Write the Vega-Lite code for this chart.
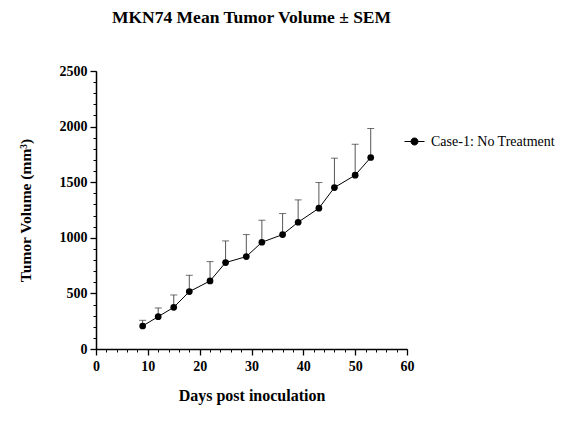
{
  "$schema": "https://vega.github.io/schema/vega-lite/v6.json",
  "autosize": {"type": "none"},
  "padding": {"left": 96, "top": 71, "right": 160, "bottom": 87},
  "width": 311,
  "height": 278,
  "background": "white",
  "title": {
    "text": "MKN74 Mean Tumor Volume ± SEM",
    "font": "Liberation Serif",
    "fontSize": 17.5,
    "fontWeight": "bold",
    "color": "black",
    "anchor": "middle",
    "offset": 38
  },
  "config": {
    "view": {"stroke": null},
    "axis": {"grid": false, "labelFlush": false, "labelFont": "Liberation Serif", "titleFont": "Liberation Serif", "labelColor": "black", "titleColor": "black", "domainColor": "black", "tickColor": "black"}
  },
  "data": {
    "values": [
      {"day": 9, "mean": 207, "upper": 258, "series": "Case-1: No Treatment"},
      {"day": 12, "mean": 291, "upper": 369, "series": "Case-1: No Treatment"},
      {"day": 15, "mean": 375, "upper": 486, "series": "Case-1: No Treatment"},
      {"day": 18, "mean": 516, "upper": 663, "series": "Case-1: No Treatment"},
      {"day": 22, "mean": 612, "upper": 786, "series": "Case-1: No Treatment"},
      {"day": 25, "mean": 777, "upper": 972, "series": "Case-1: No Treatment"},
      {"day": 29, "mean": 831, "upper": 1029, "series": "Case-1: No Treatment"},
      {"day": 32, "mean": 960, "upper": 1158, "series": "Case-1: No Treatment"},
      {"day": 36, "mean": 1029, "upper": 1218, "series": "Case-1: No Treatment"},
      {"day": 39, "mean": 1140, "upper": 1341, "series": "Case-1: No Treatment"},
      {"day": 43, "mean": 1266, "upper": 1497, "series": "Case-1: No Treatment"},
      {"day": 46, "mean": 1452, "upper": 1716, "series": "Case-1: No Treatment"},
      {"day": 50, "mean": 1563, "upper": 1842, "series": "Case-1: No Treatment"},
      {"day": 53, "mean": 1722, "upper": 1983, "series": "Case-1: No Treatment"}
    ]
  },
  "resolve": {"axis": {"x": "independent", "y": "independent"}},
  "layer": [
    {
      "mark": {"type": "point", "opacity": 0},
      "encoding": {
        "x": {"field": "day", "type": "quantitative", "scale": {"domain": [0, 60], "nice": false, "zero": true},
          "axis": {"orient": "bottom", "values": [0,2,4,6,8,10,12,14,16,18,20,22,24,26,28,30,32,34,36,38,40,42,44,46,48,50,52,54,56,58,60], "labels": false, "title": null, "domain": false, "tickSize": 3, "tickWidth": 1}},
        "y": {"field": "mean", "type": "quantitative", "scale": {"domain": [0, 2500], "nice": false},
          "axis": {"orient": "left", "values": [0,100,200,300,400,500,600,700,800,900,1000,1100,1200,1300,1400,1500,1600,1700,1800,1900,2000,2100,2200,2300,2400,2500], "labels": false, "title": null, "domain": false, "tickSize": 3, "tickWidth": 1}}
      }
    },
    {
      "mark": {"type": "rule", "color": "#555555", "strokeWidth": 1},
      "encoding": {
        "x": {"field": "day", "type": "quantitative", "axis": null},
        "y": {"field": "mean", "type": "quantitative", "axis": null},
        "y2": {"field": "upper"}
      }
    },
    {
      "mark": {"type": "tick", "orient": "horizontal", "color": "#333333", "size": 7, "thickness": 1},
      "encoding": {
        "x": {"field": "day", "type": "quantitative", "axis": null},
        "y": {"field": "upper", "type": "quantitative", "axis": null}
      }
    },
    {
      "mark": {"type": "line", "strokeWidth": 1},
      "encoding": {
        "x": {"field": "day", "type": "quantitative",
          "axis": {"orient": "bottom", "values": [0,10,20,30,40,50,60], "format": "d", "title": "Days post inoculation", "titleFontSize": 16, "titleFontWeight": "bold", "titlePadding": 14, "labelFontSize": 14, "labelFontWeight": "bold", "labelPadding": 4, "tickSize": 6, "tickWidth": 1.3, "domainWidth": 1.5}},
        "y": {"field": "mean", "type": "quantitative",
          "axis": {"orient": "left", "values": [0,500,1000,1500,2000,2500], "format": "d", "title": "Tumor Volume (mm³)", "titleFontSize": 15.5, "titleFontWeight": "bold", "titlePadding": 26, "labelFontSize": 14, "labelFontWeight": "bold", "labelPadding": 3, "tickSize": 6, "tickWidth": 1.3, "domainWidth": 1.5}},
        "color": {"field": "series", "type": "nominal", "scale": {"range": ["black"]},
          "legend": {"title": null, "orient": "none", "legendX": 308, "legendY": 60, "padding": 0,
            "symbolType": "M-1,0L1,0M-0.35,0A0.35,0.35 0 1 0 0.35,0A0.35,0.35 0 1 0 -0.35,0Z",
            "symbolSize": 400, "symbolStrokeWidth": 1, "symbolFillColor": "black", "symbolStrokeColor": "black",
            "labelFont": "Liberation Serif", "labelFontSize": 14, "labelColor": "black", "labelOffset": 6,
            "labelLimit": 300}}
      }
    },
    {
      "mark": {"type": "point", "filled": true, "size": 45, "color": "black", "opacity": 1},
      "encoding": {
        "x": {"field": "day", "type": "quantitative", "axis": null},
        "y": {"field": "mean", "type": "quantitative", "axis": null}
      }
    }
  ]
}
